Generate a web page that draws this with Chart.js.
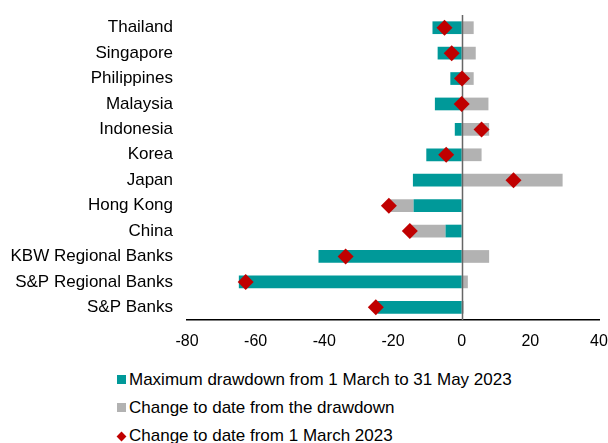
<!DOCTYPE html>
<html>
<head>
<meta charset="utf-8">
<script src="https://cdn.jsdelivr.net/npm/chart.js@4/dist/chart.umd.min.js"></script>
<style>
  body { margin: 0; background: #fff; }
  #wrap { position: relative; width: 608px; height: 443px; }
  #legend { position: absolute; left: 117px; top: 366px; font: 17px "Liberation Sans", Arial, sans-serif; color: #000; }
  #legend div { height: 28px; line-height: 28px; white-space: nowrap; }
  #legend span.mk { display: inline-block; width: 9px; height: 9px; margin-right: 3px; vertical-align: 1px; }
  #legend span.dia { width: 7px; height: 7px; transform: rotate(45deg); margin-left: 1px; margin-right: 4px; }
</style>
</head>
<body>
<div id="wrap">
  <canvas id="chart" width="608" height="360"></canvas>
  <div id="legend"></div>
</div>
<script>
let labels = ["Thailand", "Singapore", "Philippines", "Malaysia", "Indonesia", "Korea", "Japan",
  "Hong Kong", "China", "KBW Regional Banks", "S&P Regional Banks", "S&P Banks"];
let drawdown = [-8.5, -7.0, -3.3, -7.8, -2.0, -10.3, -14.2, -14.0, -4.7, -41.7, -64.9, -24.5];
let fromDrawdown = [3.5, 4.1, 3.5, 7.8, 8.0, 5.8, 29.4, -6.8, -10.3, 8.0, 1.8, 0.6];
let sinceMarch = [-5.0, -2.9, 0.1, 0.0, 5.8, -4.5, 15.1, -21.2, -15.1, -33.8, -62.9, -25.0];
let xTicks = [-80, -60, -40, -20, 0, 20, 40];

let seriesNames = ["Maximum drawdown from 1 March to 31 May 2023",
  "Change to date from the drawdown", "Change to date from 1 March 2023"];
let colors = ["#009999", "#B2B2B2", "#C00000"];

// zero line drawn after the bars, under the diamonds
const zeroLine = {
  id: "zeroLine",
  beforeDatasetDraw(chart, args) {
    if (args.meta.type !== "line") return;
    let x = Math.round(chart.scales.x.getPixelForValue(0)) + 0.5;
    let ctx = chart.ctx;
    ctx.save();
    ctx.strokeStyle = "#666";
    ctx.lineWidth = 1.5;
    ctx.beginPath();
    ctx.moveTo(x, chart.chartArea.top);
    ctx.lineTo(x, chart.chartArea.bottom);
    ctx.stroke();
    ctx.restore();
  }
};

let ctx = document.getElementById("chart").getContext("2d");
let chart = new Chart(ctx, {
  type: "bar",
  data: {
    labels: labels,
    datasets: [
      {
        type: "line",
        label: seriesNames[2],
        data: sinceMarch,
        showLine: false,
        stack: "pts",
        order: 0,
        pointStyle: "rectRot",
        pointRadius: 8,
        pointBackgroundColor: colors[2],
        pointBorderColor: colors[2],
        pointBorderWidth: 0
      },
      {
        label: seriesNames[0],
        data: drawdown,
        backgroundColor: colors[0],
        stack: "bars",
        order: 1,
        barPercentage: 0.5,
        categoryPercentage: 1
      },
      {
        label: seriesNames[1],
        data: fromDrawdown,
        backgroundColor: colors[1],
        stack: "bars",
        order: 2,
        barPercentage: 0.5,
        categoryPercentage: 1
      }
    ]
  },
  options: {
    indexAxis: "y",
    responsive: false,
    animation: false,
    layout: { padding: { top: 15, right: 9, left: 0, bottom: 0 } },
    plugins: { legend: { display: false }, tooltip: { enabled: false } },
    scales: {
      x: {
        stacked: true,
        min: -80,
        max: 40,
        afterBuildTicks: s => { s.ticks = xTicks.map(v => ({ value: v })); },
        grid: { display: false, drawTicks: false },
        border: { display: true, color: "#000", width: 1.5 },
        ticks: { color: "#000", padding: 12, font: { family: "'Liberation Sans', Arial", size: 16 } },
        afterFit: s => { s.height = 40; s.paddingLeft = 0; s.paddingRight = 0; }
      },
      y: {
        stacked: true,
        grid: { display: false, drawTicks: false },
        border: { display: false },
        ticks: { color: "#000", padding: 14, font: { family: "'Liberation Sans', Arial", size: 17 } },
        afterFit: s => { s.width = 187; s.paddingTop = 0; s.paddingBottom = 0; }
      }
    }
  },
  plugins: [zeroLine]
});

// legend, one item per line
let html = "";
html += `<div><span class="mk" style="background:${colors[0]}"></span>${seriesNames[0]}</div>`;
html += `<div><span class="mk" style="background:${colors[1]}"></span>${seriesNames[1]}</div>`;
html += `<div><span class="mk dia" style="background:${colors[2]}"></span>${seriesNames[2]}</div>`;
document.getElementById("legend").innerHTML = html;
</script>
</body>
</html>
